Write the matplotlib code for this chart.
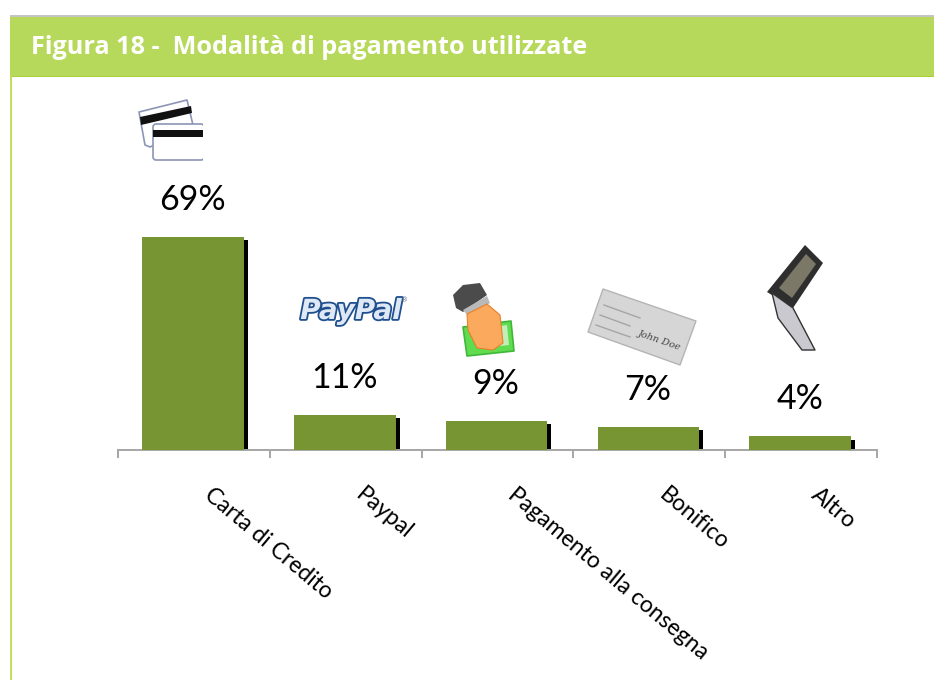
import matplotlib
matplotlib.use('Agg')
import matplotlib.pyplot as plt
import matplotlib.patheffects as pe
from matplotlib.patches import Polygon, Rectangle, FancyBboxPatch

categorie = ['Carta di Credito', 'Paypal', 'Pagamento alla consegna', 'Bonifico', 'Altro']
valori = [69, 11, 9, 7, 4]
etichette = ['69%', '11%', '9%', '7%', '4%']
titolo = 'Figura 18 -  Modalità di pagamento utilizzate'

W, H = 934, 680
VERDE = '#789534'
px = 72 / 100  # da pixel a punti

fig = plt.figure(figsize=(W / 100, H / 100), dpi=100, facecolor='white')

# livello di sfondo in pixel: testata e bordo
bg = fig.add_axes([0, 0, 1, 1], zorder=0)
bg.set_xlim(0, W)
bg.set_ylim(H, 0)
bg.axis('off')
bg.add_patch(Rectangle((10, 15), W - 10, 2, color='#c4c4c4', lw=0))
bg.add_patch(Rectangle((10, 17), W - 10, 59, color='#b7d95b', lw=0))
bg.add_patch(Rectangle((10, 76), W - 10, 1.4, color='#a9cf38', lw=0))
bg.add_patch(Rectangle((10, 76), 2, H - 76, color='#c0de62', lw=0))
bg.text(31, 47, titolo, color='white', fontsize=18.2, fontweight='bold',
        family='Open Sans', va='center', ha='left')

# grafico
ax = fig.add_axes([118 / W, (H - 450) / H, 759 / W, 310 / H], zorder=1)
ax.patch.set_alpha(0)
y0 = -0.4
ax.set_xlim(-0.5, 4.5)
ax.set_ylim(y0, y0 + 310 / 3.07)
x = list(range(len(valori)))
ax.bar([i + 0.02 for i in x], [v - y0 - 1 for v in valori], width=0.67, bottom=y0,
       color='black', zorder=2)
ax.bar([i - 0.006 for i in x], [v - y0 for v in valori], width=0.67, bottom=y0, color=VERDE, zorder=3)

for s in ['top', 'left', 'right']:
    ax.spines[s].set_visible(False)
ax.spines['bottom'].set_color('#a6a6a6')
ax.spines['bottom'].set_linewidth(1.4)
ax.set_yticks([])
ax.set_xticks([i - 0.5 for i in range(len(valori) + 1)])
ax.set_xticklabels([])
ax.tick_params(axis='x', length=8 * px, width=1.4, color='#a6a6a6', direction='out')

for i, v in enumerate(valori):
    ax.annotate(etichette[i], (i - 0.01, v), xytext=(0, 37 * px), textcoords='offset points',
                ha='center', va='center', fontsize=24.5, family='Lato', color='black', zorder=5)
    ax.annotate(categorie[i], (i, y0), xytext=(20 * px, -34 * px), textcoords='offset points',
                ha='left', va='top', rotation=-40, rotation_mode='anchor',
                fontsize=16.5, family='Lato', color='black', annotation_clip=False)

# icone disegnate a mano, in pixel
ic = fig.add_axes([0, 0, 1, 1], zorder=2)
ic.set_xlim(0, W)
ic.set_ylim(H, 0)
ic.axis('off')
ic.patch.set_alpha(0)

def poly(pts, fc, ec='none', lw=0, z=3):
    ic.add_patch(Polygon(pts, closed=True, facecolor=fc, edgecolor=ec, linewidth=lw, zorder=z, joinstyle='round'))

# carte di credito
poly([(139, 112), (187, 100), (193, 125), (150, 147), (145, 145)], 'white', '#8c95b5', 1.2, 3)
poly([(140, 117), (191, 106), (192, 113), (141, 125)], '#111111', z=3.1)
ic.add_patch(FancyBboxPatch((153, 124), 51, 36, boxstyle='round,pad=0,rounding_size=3',
                            facecolor='white', edgecolor='#8c95b5', linewidth=1.2, zorder=4))
ic.add_patch(Rectangle((153, 130), 50, 7, color='#111111', lw=0, zorder=5))
ic.add_patch(Rectangle((203, 120), 4, 44, color='white', lw=0, zorder=6))

# logo paypal
ic.text(351, 311, 'PayPal', fontsize=20, fontweight='bold', style='italic', family='DejaVu Sans',
        color='#dfe9f5', ha='center', va='center', zorder=5,
        path_effects=[pe.withStroke(linewidth=2.6, foreground='#1f4f8f')])
ic.text(405, 300, '®', fontsize=5, color='#5b6f8f', ha='center', va='center', zorder=5)

# mano con banconota
poly([(463, 327), (511, 321), (514, 351), (467, 356)], '#5fdc50', '#3fb83a', 1.2, 3)
poly([(488, 328), (507, 325), (509, 345), (492, 347)], '#c2efb8', z=3.1)
poly([(453, 295), (463, 285), (480, 283), (487, 295), (463, 312), (456, 308)], '#4b4b4b', z=4)
poly([(463, 310), (487, 296), (490, 303), (468, 316)], '#b9b9b9', z=4)
poly([(467, 314), (487, 304), (500, 315), (503, 343), (493, 350), (477, 348), (468, 330)],
     '#fba95c', '#e8802a', 0.8, 5)

# assegno
poly([(603, 289), (696, 321), (680, 365), (588, 332)], '#d6d6d6', '#b4b4b4', 1, 3)
ic.text(638, 333, 'John Doe', fontsize=7, style='italic', color='#444444', rotation=-19,
        ha='left', va='center', rotation_mode='anchor', family='DejaVu Serif', zorder=4)
ic.plot([604, 640], [305, 318], color='#a5a5a5', lw=1, zorder=4)
ic.plot([600, 630], [315, 326], color='#a5a5a5', lw=1, zorder=4)
ic.plot([596, 630], [325, 337], color='#a5a5a5', lw=1, zorder=4)

# telefono
poly([(805, 245), (823, 263), (793, 308), (767, 292)], '#2e2e2e', z=3)
poly([(806, 254), (816, 264), (792, 298), (779, 288)], '#7c7868', z=4)
poly([(772, 293), (793, 308), (815, 350), (802, 350), (778, 318)], '#c9c9cf', '#333333', 1, 3)

fig.savefig('out.png', dpi=100)
